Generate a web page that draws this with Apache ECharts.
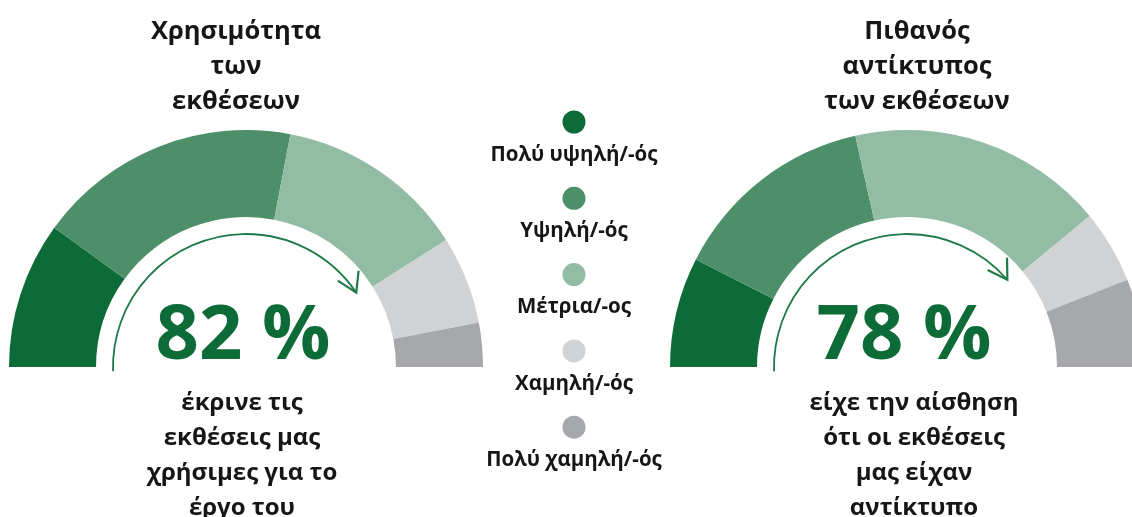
<!DOCTYPE html>
<html>
<head>
<meta charset="utf-8">
<script src="https://cdn.jsdelivr.net/npm/echarts@6/dist/echarts.min.js"></script>
<style>
  html, body { margin: 0; padding: 0; background: #fff; }
  #chart { width: 1132px; height: 517px; }
</style>
</head>
<body>
<div id="chart"></div>
<script>
const levels = ["Πολύ υψηλή/-ός", "Υψηλή/-ός", "Μέτρια/-ος", "Χαμηλή/-ός", "Πολύ χαμηλή/-ός"];
const levelColors = ["#0d6b38", "#4c8f69", "#92bda4", "#d1d2d4", "#a6a8ab"];

const usefulnessValues = [20, 36, 26, 12, 6];
const impactValues = [15, 28, 35, 10, 12];

const gauges = [
  {
    values: usefulnessValues,
    center: [246, 367],
    title: "Χρησιμότητα\nτων\nεκθέσεων",
    titleX: 236,
    percent: "82 %",
    note: "έκρινε τις\nεκθέσεις μας\nχρήσιμες για το\nέργο του",
    noteX: 242,
    arrowEnd: 34,
  },
  {
    values: impactValues,
    center: [907, 367],
    title: "Πιθανός\nαντίκτυπος\nτων εκθέσεων",
    titleX: 917,
    percent: "78 %",
    note: "είχε την αίσθηση\nότι οι εκθέσεις\nμας είχαν\nαντίκτυπο",
    noteX: 914,
    arrowEnd: 41,
  },
];

const FONT = "'Open Sans', 'Noto Sans', sans-serif";
const INNER = 150;
const OUTER = 237;
const ARROW_R = 133;

function arrowGraphics(cx, cy, endDeg) {
  const end = (2 * Math.PI) - (endDeg * Math.PI) / 180;
  const tipX = cx + ARROW_R * Math.cos(end);
  const tipY = cy + ARROW_R * Math.sin(end);
  // direction of travel at the tip (clockwise on screen)
  const dir = Math.atan2(Math.cos(end), -Math.sin(end)) + 0.15;
  const len = 22;
  const spread = 0.55;
  const a1 = dir + Math.PI - spread;
  const a2 = dir + Math.PI + spread;
  return [
    {
      type: "arc",
      silent: true,
      shape: { cx, cy, r: ARROW_R, startAngle: Math.PI * 0.99, endAngle: end, clockwise: true },
      style: { stroke: "#1f7a47", lineWidth: 1.8, fill: null },
    },
    {
      type: "polyline",
      silent: true,
      shape: {
        points: [
          [tipX + len * Math.cos(a1), tipY + len * Math.sin(a1)],
          [tipX, tipY],
          [tipX + len * Math.cos(a2), tipY + len * Math.sin(a2)],
        ],
      },
      style: { stroke: "#1f7a47", lineWidth: 2.2, fill: null },
    },
  ];
}

function textGraphic(x, y, text, size, color, lineHeight, vAlign) {
  return {
    type: "text",
    silent: true,
    x,
    y,
    style: {
      text,
      fill: color,
      font: `bold ${size}px ${FONT}`,
      align: "center",
      verticalAlign: vAlign || "top",
      lineHeight,
    },
  };
}

const chart = echarts.init(document.getElementById("chart"), null, { renderer: "canvas" });

const graphics = [];
gauges.forEach((g) => {
  graphics.push(textGraphic(g.titleX, 14, g.title, 25.5, "#161616", 35));
  graphics.push(textGraphic(g.noteX, 386, g.note, 24, "#161616", 35));
  graphics.push(textGraphic(g.center[0] - 3, 292, g.percent, 76, "#0d6b38", 90));
  graphics.push(...arrowGraphics(g.center[0], g.center[1], g.arrowEnd));
});

levels.forEach((name, i) => {
  const cy = 122 + i * 76.3;
  graphics.push({
    type: "circle",
    silent: true,
    shape: { cx: 574, cy, r: 11.5 },
    style: { fill: levelColors[i] },
  });
  graphics.push(textGraphic(574, cy + 33, name, 20.5, "#161616", 24, "middle"));
});

chart.setOption({
  backgroundColor: "#ffffff",
  animation: false,
  series: gauges.map((g) => ({
    type: "pie",
    silent: true,
    center: g.center,
    radius: [INNER, OUTER],
    startAngle: 180,
    endAngle: 0,
    clockwise: true,
    label: { show: false },
    labelLine: { show: false },
    itemStyle: { borderWidth: 0 },
    data: g.values.map((v, i) => ({
      name: levels[i],
      value: v,
      itemStyle: { color: levelColors[i] },
    })),
  })),
  graphic: graphics,
});
</script>
</body>
</html>
